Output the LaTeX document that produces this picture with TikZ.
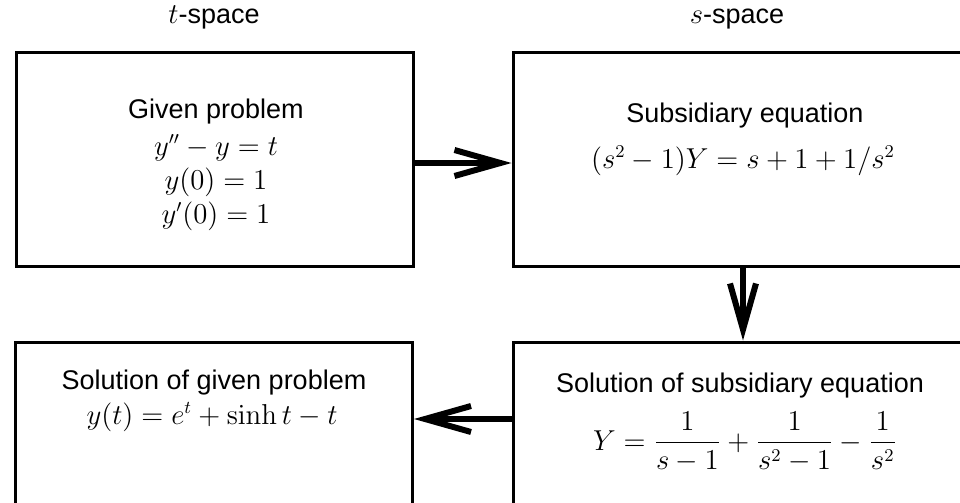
\documentclass[tikz,border=0pt]{standalone}
\usepackage{amsmath}
\usepackage[no-math]{fontspec}
\setmainfont{Liberation Sans}
\usetikzlibrary{arrows.meta}
\tikzset{
  space box/.style={
    rectangle, draw=black, line width=1.5pt, inner sep=0pt,
    minimum width=198.5pt, minimum height=107pt
  },
  wide box/.style={
    rectangle, draw=black, line width=1.5pt, inner sep=0pt,
    minimum width=224.5pt, minimum height=107pt
  },
  box text/.style={
    anchor=base, inner sep=0pt, font=\fontsize{13.5}{16}\selectfont
  },
  flow/.style={
    line width=3pt, -{Straight Barb[length=23pt, width=13pt]}
  }
}

\begin{document}
\begin{tikzpicture}[x=0.5pt, y=-0.5pt]

\useasboundingbox (0,0) rectangle (960,503);
\clip (0,0) rectangle (960,503);

% top row: t-space and s-space
\node[box text] (tsp) at (214,24) {$t$-space};
\node[box text] (ssp) at (737,24) {$s$-space};

\node[space box] (gp) at (214.5,159) {};
\node[box text] (gp1) at (216,118) {Given problem};
\node[box text] (gp2) at (216,155) {$y'' - y = t$};
\node[box text] (gp3) at (216,189) {$y(0) = 1$};
\node[box text] (gp4) at (216,223) {$y'(0) = 1$};

\node[wide box] (se) at (737.5,159) {};
\node[box text] (se1) at (745,122) {Subsidiary equation};
\node[box text] (se2) at (743,168) {$(s^2 - 1)Y = s + 1 + 1/s^2$};

% bottom row: solutions
\node[wide box] (ss) at (737.5,449) {};
\node[box text] (ss1) at (740,392) {Solution of subsidiary equation};
\node[box text] (ss2) at (745,450)
  {$Y = \dfrac{1}{s-1} + \dfrac{1}{s^2-1} - \dfrac{1}{s^2}$};

\node[space box] (sg) at (214,449) {};
\node[box text] (sg1) at (214,389) {Solution of given problem};
\node[box text] (sg2) at (212,424) {$y(t) = e^t + \sinh t - t$};

\draw[flow] ([yshift=-2pt]gp.east) -- ([yshift=-2pt]se.west);
\draw[flow] ([xshift=2.75pt]se.south) -- ([xshift=2.75pt]ss.north);
\draw[flow] ([yshift=15pt]ss.west) -- ([yshift=15pt]sg.east);

\end{tikzpicture}
\end{document}
